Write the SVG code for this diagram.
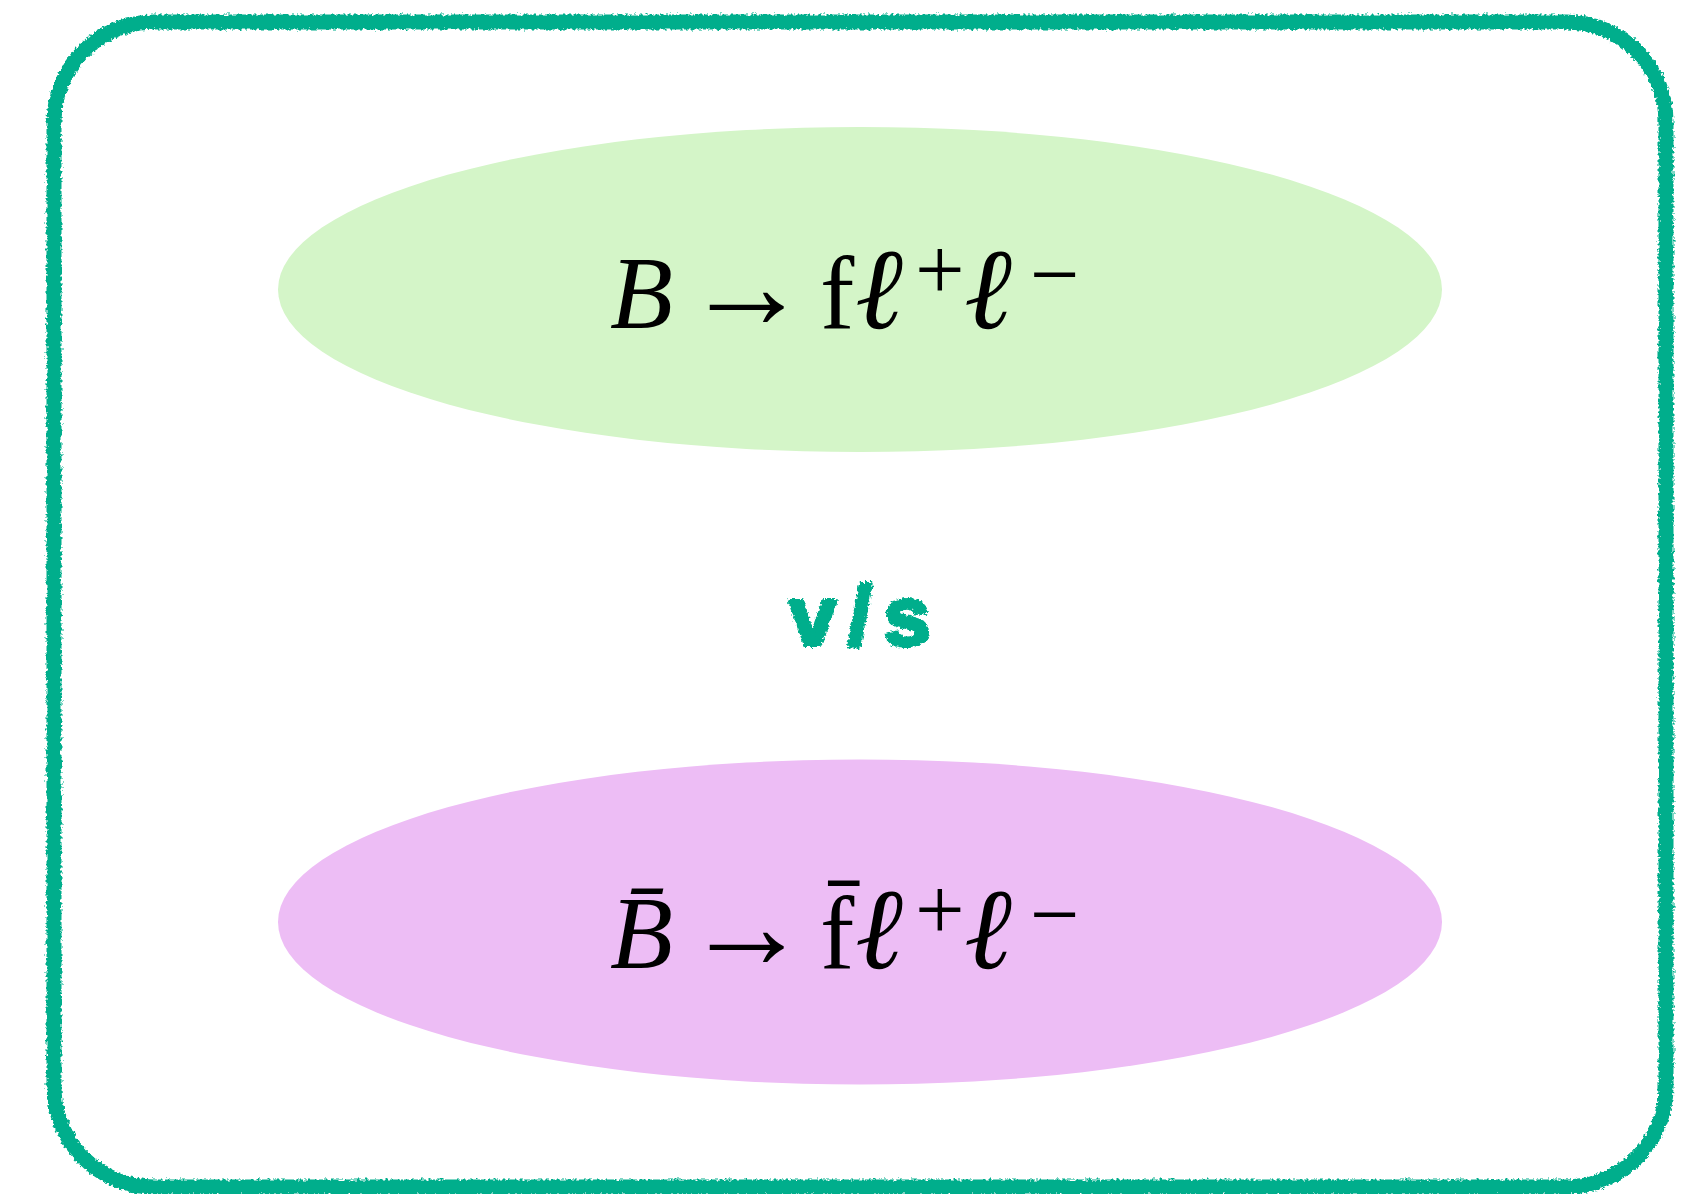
<svg xmlns="http://www.w3.org/2000/svg" width="1687" height="1194" viewBox="0 0 1687 1194">
<defs>
<filter id="rough" x="-5%" y="-5%" width="110%" height="110%">
<feTurbulence type="fractalNoise" baseFrequency="0.35" numOctaves="2" seed="3" result="n"/>
<feDisplacementMap in="SourceGraphic" in2="n" scale="6" xChannelSelector="R" yChannelSelector="G"/>
</filter>
<style>
.frame{fill:none;stroke:#05ae8c;stroke-width:15}
.math{font-family:"Liberation Serif","DejaVu Serif",serif;fill:#000}
.it{font-style:italic}
.ell{font-style:italic;font-size:115px}
.arr{font-size:125px}
.sup{font-size:88px}
.vs{font-family:"Liberation Sans",sans-serif;font-weight:bold;fill:#05ae8c;stroke:#05ae8c;stroke-width:4;stroke-linejoin:round}
</style>
</defs>
<rect width="1687" height="1194" fill="#fff"/>
<g id="frame">
<rect class="frame" x="54" y="22" width="1612" height="1165" rx="100" ry="100" filter="url(#rough)"/>
</g>
<g id="node-top">
<ellipse cx="860" cy="289.5" rx="582" ry="162.5" fill="#d4f5c8"/>
<text class="math" y="328" font-size="103"><tspan class="it" x="610">B</tspan><tspan class="arr" x="684">→</tspan><tspan x="820">f</tspan><tspan class="ell" x="855">ℓ</tspan><tspan class="sup" x="915" dy="-29">+</tspan><tspan class="ell" x="964" dy="29">ℓ</tspan><tspan class="sup" x="1030" dy="-24">−</tspan></text>
</g>
<g id="label-vs">
<text class="vs" x="866" y="645" font-size="84" text-anchor="middle" letter-spacing="12" filter="url(#rough)">v/s</text>
</g>
<g id="node-bottom">
<ellipse cx="860" cy="922" rx="582" ry="162.5" fill="#edbdf5"/>
<text class="math" y="968" font-size="103"><tspan class="it" x="610">B̄</tspan><tspan class="arr" x="684">→</tspan><tspan x="820">f̄</tspan><tspan class="ell" x="855">ℓ</tspan><tspan class="sup" x="915" dy="-29">+</tspan><tspan class="ell" x="964" dy="29">ℓ</tspan><tspan class="sup" x="1030" dy="-24">−</tspan></text>
</g>
<g id="connectors"></g>
</svg>
